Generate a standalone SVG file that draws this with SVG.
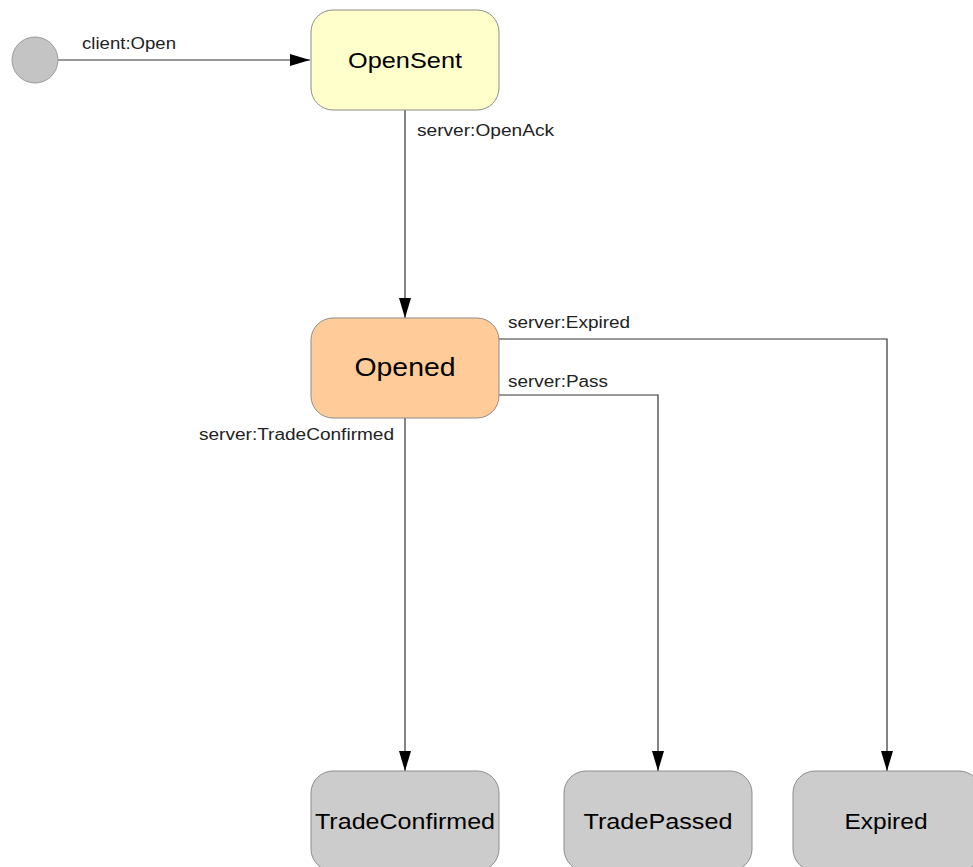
<svg xmlns="http://www.w3.org/2000/svg" width="973" height="867" viewBox="0 0 973 867">
  <style>
    .state { stroke: #8c8c8c; stroke-width: 1; }
    .name { font-family: "Liberation Sans", Arial, sans-serif; fill: #000; text-anchor: middle; }
    .edge { fill: none; stroke: #333; stroke-width: 1.2; }
    .label { font-family: "Liberation Sans", Arial, sans-serif; font-size: 16px; fill: #222; }
  </style>
  <defs>
    <marker id="arrow" viewBox="0 0 20 12" refX="20" refY="6" markerWidth="20" markerHeight="12" markerUnits="userSpaceOnUse" orient="auto">
      <path d="M0,0 L20,6 L0,12 Z" fill="#000"/>
    </marker>
  </defs>
  <rect width="973" height="867" fill="#fff"/>

  <g id="connectors">
    <path class="edge" d="M58,60 H310" marker-end="url(#arrow)"/>
    <path class="edge" d="M405,110 V318" marker-end="url(#arrow)"/>
    <path class="edge" d="M499,339 H887 V771" marker-end="url(#arrow)"/>
    <path class="edge" d="M499,395 H658 V771" marker-end="url(#arrow)"/>
    <path class="edge" d="M405,418 V771" marker-end="url(#arrow)"/>
    <text class="label" x="82" y="49" textLength="94" lengthAdjust="spacingAndGlyphs">client:Open</text>
    <text class="label" x="417" y="136" textLength="137" lengthAdjust="spacingAndGlyphs">server:OpenAck</text>
    <text class="label" x="508" y="328" textLength="122" lengthAdjust="spacingAndGlyphs">server:Expired</text>
    <text class="label" x="508" y="387" textLength="100" lengthAdjust="spacingAndGlyphs">server:Pass</text>
    <text class="label" x="199" y="440" textLength="195" lengthAdjust="spacingAndGlyphs">server:TradeConfirmed</text>
  </g>

  <g id="initial">
    <circle cx="35" cy="60" r="23" fill="#c4c4c4" stroke="#9a9a9a"/>
  </g>

  <g id="OpenSent">
    <rect class="state" x="311" y="10" width="188" height="100" rx="22" fill="#ffffcc"/>
    <text class="name" x="405" y="68" font-size="22" textLength="114" lengthAdjust="spacingAndGlyphs">OpenSent</text>
  </g>

  <g id="Opened">
    <rect class="state" x="311" y="318" width="188" height="100" rx="22" fill="#ffcc99"/>
    <text class="name" x="405" y="376" font-size="25" textLength="101" lengthAdjust="spacingAndGlyphs">Opened</text>
  </g>

  <g id="TradeConfirmed">
    <rect class="state" x="311" y="771" width="188" height="100" rx="22" fill="#cccccc"/>
    <text class="name" x="405" y="829" font-size="22" textLength="180" lengthAdjust="spacingAndGlyphs">TradeConfirmed</text>
  </g>

  <g id="TradePassed">
    <rect class="state" x="564" y="771" width="188" height="100" rx="22" fill="#cccccc"/>
    <text class="name" x="658" y="829" font-size="22" textLength="149" lengthAdjust="spacingAndGlyphs">TradePassed</text>
  </g>

  <g id="Expired">
    <rect class="state" x="793" y="771" width="188" height="100" rx="22" fill="#cccccc"/>
    <text class="name" x="886" y="829" font-size="22" textLength="83" lengthAdjust="spacingAndGlyphs">Expired</text>
  </g>
</svg>
